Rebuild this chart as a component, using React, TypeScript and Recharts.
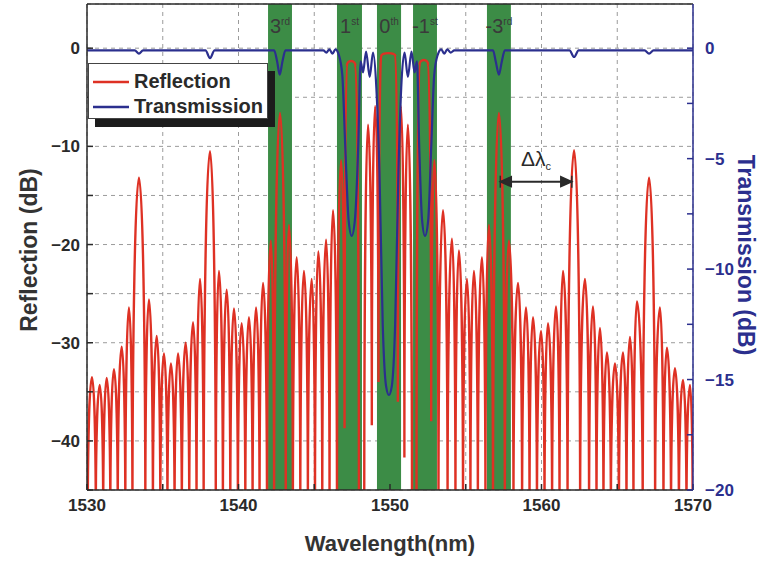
import {
  CartesianGrid,
  Line,
  LineChart,
  ReferenceArea,
  ReferenceDot,
  ReferenceLine,
  XAxis,
  YAxis,
} from "recharts";

const FONT = '"Liberation Sans", Arial, Helvetica, sans-serif';
const RED = "#de3124";
const NAVY = "#2b2f8e";
const GREEN = "#3c8c46";
const INK = "#2a2a2a";

// reflection trace as [wavelength (nm), dB]; -48 marks the deep nulls that fall below the frame
const reflectionLeft: [number, number][] = [
  [1530.05, -48], [1530.33, -33.5], [1530.58, -48], [1530.84, -34.3], [1531.07, -48],
  [1531.3, -33.6], [1531.54, -48], [1531.78, -32.7], [1532.03, -48], [1532.29, -30.4],
  [1532.53, -48], [1532.77, -26.4], [1533.0, -48], [1533.43, -13.2], [1533.85, -48],
  [1534.09, -25.6], [1534.35, -48], [1534.6, -29.3], [1534.84, -48], [1535.08, -31.1],
  [1535.31, -48], [1535.54, -32.1], [1535.78, -48], [1536.01, -31.1], [1536.26, -48],
  [1536.51, -30.0], [1536.75, -48], [1537.0, -27.9], [1537.23, -48], [1537.46, -23.5],
  [1537.7, -48], [1538.12, -10.5], [1538.5, -48], [1538.71, -22.7], [1538.97, -48],
  [1539.22, -24.6], [1539.46, -48], [1539.7, -26.5], [1539.96, -48], [1540.21, -28.0],
  [1540.45, -48], [1540.69, -27.4], [1540.93, -48], [1541.16, -26.4], [1541.39, -48],
  [1541.62, -23.9], [1541.88, -48], [1542.13, -19.6], [1542.35, -48], [1542.74, -6.6],
  [1543.12, -48], [1543.33, -18.0], [1543.59, -48], [1543.84, -21.3], [1544.08, -48],
  [1544.32, -22.7], [1544.58, -48], [1544.83, -23.5], [1545.05, -48], [1545.27, -20.7],
  [1545.53, -48], [1545.78, -19.5], [1546.01, -48], [1546.24, -16.5], [1546.5, -48],
];

const reflectionCentre: [number, number][] = [
  [1546.77, -11.4], [1547.0, -38.7], [1547.15, -1.8], [1547.43, -1.3], [1547.72, -1.8],
  [1547.95, -48], [1548.3, -48], [1548.55, -7.8], [1548.8, -38.4], [1549.02, -5.9],
  [1549.24, -34], [1549.42, -0.8], [1549.9, -0.5], [1550.36, -0.8], [1550.52, -36],
  [1550.72, -5.9], [1550.95, -41.7], [1551.18, -7.8], [1551.45, -48], [1551.75, -48],
  [1551.95, -1.7], [1552.24, -1.2], [1552.52, -1.7], [1552.72, -38], [1552.93, -11.4],
  [1553.2, -48],
];

const reflectionRight: [number, number][] = [
  [1553.5, -16.5], [1553.8, -48], [1554.09, -19.4], [1554.32, -48], [1554.55, -20.6],
  [1554.82, -48], [1555.08, -23.5], [1555.31, -48], [1555.54, -22.7], [1555.8, -48],
  [1556.07, -21.3], [1556.3, -48], [1556.53, -18.0], [1556.8, -48], [1557.19, -6.6],
  [1557.58, -48], [1557.85, -19.6], [1558.15, -48], [1558.45, -23.9], [1558.72, -48],
  [1558.98, -26.4], [1559.21, -48], [1559.44, -27.4], [1559.7, -48], [1559.97, -28.8],
  [1560.2, -48], [1560.43, -28.0], [1560.7, -48], [1560.96, -26.3], [1561.19, -48],
  [1561.42, -22.7], [1561.72, -48], [1562.15, -10.4], [1562.55, -48], [1562.87, -23.5],
  [1563.14, -48], [1563.4, -26.3], [1563.63, -48], [1563.86, -28.5], [1564.09, -48],
  [1564.32, -31.0], [1564.58, -48], [1564.85, -32.1], [1565.11, -48], [1565.38, -31.0],
  [1565.61, -48], [1565.84, -29.4], [1566.07, -48], [1566.3, -25.8], [1566.68, -48],
  [1567.1, -13.2], [1567.5, -48], [1567.82, -26.4], [1568.05, -48], [1568.28, -30.5],
  [1568.55, -48], [1568.81, -32.6], [1569.07, -48], [1569.34, -33.8], [1569.57, -48],
  [1569.8, -34.3], [1569.98, -48],
];

// transmission trace as [wavelength (nm), dB] on the right axis
const transmission: [number, number][] = [
  [1530.0, -0.1], [1533.15, -0.1], [1533.43, -0.25], [1533.7, -0.1],
  [1537.82, -0.1], [1538.12, -0.45], [1538.42, -0.1],
  [1542.35, -0.1], [1542.55, -0.6], [1542.72, -1.2], [1542.9, -0.6], [1543.1, -0.1],
  [1545.6, -0.1], [1545.8, -0.2], [1546.0, -0.05], [1546.2, -0.25], [1546.4, -0.05], [1546.62, -0.3],
  [1546.85, -1.2], [1547.05, -4.5], [1547.27, -7.8], [1547.47, -8.5], [1547.68, -7.8], [1547.9, -4.5],
  [1548.06, -0.6], [1548.22, -1.1], [1548.42, -0.15], [1548.66, -1.3], [1548.88, -0.2], [1549.1, -1.8],
  [1549.3, -5.5], [1549.52, -12.5], [1549.74, -15.3], [1549.93, -15.7], [1550.12, -15.3], [1550.34, -12.5],
  [1550.56, -5.5], [1550.74, -1.8], [1550.96, -0.2], [1551.18, -1.3], [1551.42, -0.15], [1551.62, -1.1],
  [1551.78, -0.6], [1551.93, -4.5], [1552.12, -7.8], [1552.31, -8.5], [1552.52, -7.8], [1552.72, -4.5],
  [1552.92, -1.2], [1553.15, -0.3], [1553.38, -0.05], [1553.58, -0.25], [1553.78, -0.05], [1554.0, -0.2],
  [1554.25, -0.1], [1556.8, -0.1], [1556.98, -0.6], [1557.19, -1.2], [1557.38, -0.6], [1557.58, -0.1],
  [1561.85, -0.1], [1562.15, -0.4], [1562.45, -0.1],
  [1566.8, -0.1], [1567.1, -0.25], [1567.4, -0.1], [1570.0, -0.1],
];

// shaded diffraction-order bands
const bandFrom = [1541.95, 1546.5, 1549.14, 1551.52, 1556.4];
const bandTo = [1543.53, 1548.15, 1550.73, 1553.1, 1557.98];
const bandOrder = ["3", "1", "0", "-1", "-3"];
const bandSuffix = ["rd", "st", "th", "st", "rd"];

const xTicks = [1530, 1535, 1540, 1545, 1550, 1555, 1560, 1565, 1570];
const reflTicks = [-45, -40, -35, -30, -25, -20, -15, -10, -5, 0];
const transTicks = [-20, -17.5, -15, -12.5, -10, -7.5, -5, -2.5, 0];

// channel spacing marker between the -3rd and -5th peaks
const spacingFrom = 1557.28;
const spacingTo = 1562.0;
const spacingDb = -13.6;

const toRows = (pts: [number, number][]) => pts.map(([wl, db]) => ({ wl, db }));
const reflectionData = toRows([...reflectionLeft, ...reflectionCentre, ...reflectionRight]);
const transmissionData = toRows(transmission);

// Curve for the fringes: round tops, vertical flanks into each null (a quarter-ellipse per segment).
const KAPPA = 0.5523;
// biome-ignore lint/suspicious/noExplicitAny: d3 path context passed in by recharts.
function archCurve(context: any) {
  let px = 0;
  let py = 0;
  let n = 0;
  return {
    areaStart() {},
    areaEnd() {},
    lineStart() {
      n = 0;
    },
    lineEnd() {},
    point(x: number, y: number) {
      if (n === 0) {
        context.moveTo(x, y);
      } else if (y < py) {
        // rising towards a peak
        context.bezierCurveTo(px, py + (y - py) * KAPPA, x - (x - px) * KAPPA, y, x, y);
      } else {
        // falling into a null
        context.bezierCurveTo(px + (x - px) * KAPPA, py, x, y - (y - py) * KAPPA, x, y);
      }
      px = x;
      py = y;
      n += 1;
    },
  };
}

const fmt = (step: number) => (v: number) =>
  Math.abs(v % step) < 1e-9 ? String(v).replace("-", "\u2212") : "";

const tickStyle = { fill: INK, fontSize: 17, fontWeight: 700, fontFamily: FONT };

// biome-ignore lint/suspicious/noExplicitAny: recharts shape props are runtime-shaped.
const bandLabel = (order: string, suffix: string) => (p: any) => (
  <text
    x={p.cx}
    y={p.cy}
    textAnchor="middle"
    fill="#3a3a3a"
    fontFamily={FONT}
    fontSize={20}
  >
    {order.replace("-", "\u2011")}
    <tspan fontSize={10} dy={-8}>
      {suffix}
    </tspan>
  </text>
);

// biome-ignore lint/suspicious/noExplicitAny: recharts shape props are runtime-shaped.
const arrowHead = (dir: number) => (p: any) => (
  <g stroke={INK} fill={INK} strokeWidth={1.5}>
    <polygon points={`${p.cx},${p.cy} ${p.cx + dir * 11},${p.cy - 5} ${p.cx + dir * 11},${p.cy + 5}`} />
    <line x1={p.cx} x2={p.cx} y1={p.cy - 6} y2={p.cy + 6} />
  </g>
);

// biome-ignore lint/suspicious/noExplicitAny: recharts shape props are runtime-shaped.
const spacingLabel = (p: any) => (
  <text x={p.cx} y={p.cy} textAnchor="middle" fill={INK} fontFamily={FONT} fontSize={21}>
    Δλ
    <tspan fontSize={11} dy={4}>
      c
    </tspan>
  </text>
);

export default function App() {
  return (
    <div
      style={{
        position: "absolute",
        left: 0,
        top: 0,
        width: 765,
        height: 565,
        background: "#fff",
        fontFamily: FONT,
      }}
    >
      <LineChart width={765} height={565} margin={{ top: 4, right: 0, bottom: 0, left: 0 }}>
        <CartesianGrid yAxisId="left" stroke="#9b9b9b" strokeDasharray="4 4" />
        <XAxis
          dataKey="wl"
          type="number"
          domain={[1530, 1570]}
          ticks={xTicks}
          allowDataOverflow
          height={75}
          tickSize={-6}
          tickMargin={15}
          tickFormatter={fmt(10)}
          tick={tickStyle}
          axisLine={{ stroke: INK, strokeWidth: 1.5 }}
          tickLine={{ stroke: INK, strokeWidth: 1.5 }}
        />
        <YAxis
          yAxisId="left"
          type="number"
          domain={[-45, 4.5]}
          ticks={reflTicks}
          allowDataOverflow
          width={87}
          tickSize={-6}
          tickMargin={13}
          tickFormatter={fmt(10)}
          tick={tickStyle}
          axisLine={{ stroke: INK, strokeWidth: 1.5 }}
          tickLine={{ stroke: INK, strokeWidth: 1.5 }}
        />
        <YAxis
          yAxisId="right"
          orientation="right"
          type="number"
          domain={[-20, 2]}
          ticks={transTicks}
          allowDataOverflow
          width={72}
          tickSize={-6}
          tickMargin={18}
          tickFormatter={fmt(5)}
          tick={{ ...tickStyle, fill: NAVY }}
          axisLine={{ stroke: NAVY, strokeWidth: 1.5 }}
          tickLine={{ stroke: NAVY, strokeWidth: 1.5 }}
        />
        {bandFrom.map((from, i) => (
          <ReferenceArea
            key={`band-${from}`}
            yAxisId="left"
            x1={from}
            x2={bandTo[i]}
            fill={GREEN}
            fillOpacity={1}
            stroke="none"
          />
        ))}
        <ReferenceLine yAxisId="left" y={4.5} stroke={INK} strokeWidth={1.5} />
        <Line
          yAxisId="left"
          data={reflectionData}
          dataKey="db"
          type={archCurve}
          stroke={RED}
          strokeWidth={2.4}
          dot={false}
          isAnimationActive={false}
        />
        <Line
          yAxisId="right"
          data={transmissionData}
          dataKey="db"
          type="monotone"
          stroke={NAVY}
          strokeWidth={2.2}
          dot={false}
          isAnimationActive={false}
        />
        {bandFrom.map((from, i) => (
          <ReferenceDot
            key={`lbl-${from}`}
            yAxisId="left"
            x={(from + bandTo[i]) / 2}
            y={1.5}
            r={0}
            shape={bandLabel(bandOrder[i], bandSuffix[i])}
          />
        ))}
        <ReferenceLine
          yAxisId="left"
          segment={[
            { x: spacingFrom, y: spacingDb },
            { x: spacingTo, y: spacingDb },
          ]}
          stroke={INK}
          strokeWidth={2}
        />
        <ReferenceDot yAxisId="left" x={spacingFrom} y={spacingDb} r={0} shape={arrowHead(1)} />
        <ReferenceDot yAxisId="left" x={spacingTo} y={spacingDb} r={0} shape={arrowHead(-1)} />
        <ReferenceDot
          yAxisId="left"
          x={(spacingFrom + spacingTo) / 2}
          y={-12}
          r={0}
          shape={spacingLabel}
        />
      </LineChart>

      <div
        style={{
          position: "absolute",
          left: 88,
          top: 63,
          width: 180,
          height: 56,
          background: "#fff",
          border: "1px solid #444",
          boxShadow: "7px 8px 0 #1c1c1c",
          boxSizing: "border-box",
        }}
      >
        <svg width={180} height={56} style={{ position: "absolute", left: -1, top: -1 }}>
          <line x1={5} x2={41} y1={19} y2={19} stroke={RED} strokeWidth={2.5} />
          <line x1={5} x2={41} y1={44} y2={44} stroke={NAVY} strokeWidth={2.5} />
          <text x={46} y={25} fontFamily={FONT} fontSize={20} fontWeight={700} fill={INK}>
            Reflection
          </text>
          <text x={46} y={50} fontFamily={FONT} fontSize={20} fontWeight={700} fill={INK}>
            Transmission
          </text>
        </svg>
      </div>

      <div
        style={{
          position: "absolute",
          left: 29,
          top: 250,
          transform: "translate(-50%, -50%) rotate(-90deg)",
          whiteSpace: "nowrap",
          fontSize: 23,
          fontWeight: 700,
          color: "#333",
        }}
      >
        Reflection (dB)
      </div>
      <div
        style={{
          position: "absolute",
          left: 745,
          top: 255,
          transform: "translate(-50%, -50%) rotate(90deg)",
          whiteSpace: "nowrap",
          fontSize: 23,
          fontWeight: 700,
          color: NAVY,
        }}
      >
        Transmission (dB)
      </div>
      <div
        style={{
          position: "absolute",
          left: 90,
          width: 600,
          top: 531,
          textAlign: "center",
          fontSize: 22,
          fontWeight: 700,
          color: "#333",
        }}
      >
        Wavelength(nm)
      </div>
    </div>
  );
}
